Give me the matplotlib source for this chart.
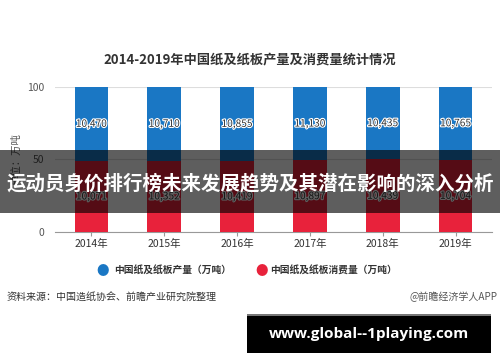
import matplotlib
matplotlib.use("Agg")
import matplotlib.pyplot as plt
import matplotlib.patheffects as pe
import numpy as np

plt.rcParams['font.family'] = ['Noto Sans CJK SC', 'DejaVu Sans']

years = ["2014年", "2015年", "2016年", "2017年", "2018年", "2019年"]
production = [10470, 10710, 10855, 11130, 10435, 10765]
consumption = [10071, 10352, 10419, 10897, 10439, 10704]
prod_label = "中国纸及纸板产量（万吨）"
cons_label = "中国纸及纸板消费量（万吨）"
title = "2014-2019年中国纸及纸板产量及消费量统计情况"
banner = "运动员身价排行榜未来发展趋势及其潜在影响的深入分析"
source = "资料来源：中国造纸协会、前瞻产业研究院整理"
credit = "@前瞻经济学人APP"
site = "www.global--1playing.com"

blue = "#1a77c4"
red = "#e8223b"

fig = plt.figure(figsize=(5.0, 3.62), dpi=100)
ax = fig.add_axes([0.11, 0.359, 0.874, 0.401])

prod = np.array(production, dtype=float)
cons = np.array(consumption, dtype=float)
tot = prod + cons
cons_pct = cons / tot * 100
prod_pct = prod / tot * 100
x = np.arange(len(years))
w = 0.46
ax.bar(x, cons_pct, width=w, color=red, zorder=3)
ax.bar(x, prod_pct, width=w, bottom=cons_pct, color=blue, zorder=3)

halo = [pe.withStroke(linewidth=1.6, foreground="white")]
for i in range(len(years)):
    ax.text(x[i], cons_pct[i] + prod_pct[i] / 2, f"{production[i]:,}", ha="center", va="center",
            fontsize=7.3, color="#333333", path_effects=halo, zorder=4)
    ax.text(x[i], cons_pct[i] / 2, f"{consumption[i]:,}", ha="center", va="center",
            fontsize=7.3, color="#333333", path_effects=halo, zorder=4)

ax.set_xlim(-0.5, len(years) - 0.5)
ax.set_ylim(0, 100)
ax.set_yticks([0, 50, 100])
ax.set_xticks(x)
ax.set_xticklabels(years)
ax.tick_params(axis="x", length=3, color="#999999", labelsize=7.5, labelcolor="#333333", pad=2)
ax.tick_params(axis="y", length=0, labelsize=7.5, labelcolor="#555555", pad=8)
for s in ["top", "right", "left"]:
    ax.spines[s].set_visible(False)
ax.spines["bottom"].set_color("#999999")
ax.grid(axis="y", color="#dddddd", linewidth=0.8, zorder=0)
ax.set_axisbelow(True)
ax.set_ylabel("单位：万吨", fontsize=7.5, color="#555555", labelpad=4)

fig.text(0.5, 0.835, title, ha="center", va="center", fontsize=9.5, fontweight="bold", color="#333333")

# legend
fig.text(0.205, 0.251, "●", ha="center", va="center", fontsize=9, color=blue)
fig.text(0.228, 0.251, prod_label, ha="left", va="center", fontsize=7, color="#333333", fontweight="bold")
fig.text(0.523, 0.251, "●", ha="center", va="center", fontsize=9, color=red)
fig.text(0.540, 0.251, cons_label, ha="left", va="center", fontsize=7, color="#333333", fontweight="bold")

fig.text(0.014, 0.180, source, ha="left", va="center", fontsize=7.2, color="#333333")
fig.text(0.994, 0.180, credit, ha="right", va="center", fontsize=7.2, color="#555555")

# banner overlay
fig.patches.append(plt.Rectangle((0, 0.412), 1, 0.174, transform=fig.transFigure,
                                 facecolor="black", alpha=0.63, zorder=10))
fig.text(0.5, 0.494, banner, ha="center", va="center", fontsize=14, fontweight="bold",
         color="white", zorder=11)

# black box
fig.patches.append(plt.Rectangle((0.494, 0.025), 0.488, 0.105, transform=fig.transFigure,
                                 facecolor="black", linewidth=0, zorder=10))
fig.patches.append(plt.Rectangle((0.494, 0.126), 0.488, 0.006, transform=fig.transFigure,
                                 facecolor="#777777", zorder=10))
fig.text(0.738, 0.076, site, ha="center", va="center", fontsize=11, fontweight="bold",
         color="white", family=["Open Sans", "DejaVu Sans"], zorder=11)

fig.savefig("out.png", dpi=100)
